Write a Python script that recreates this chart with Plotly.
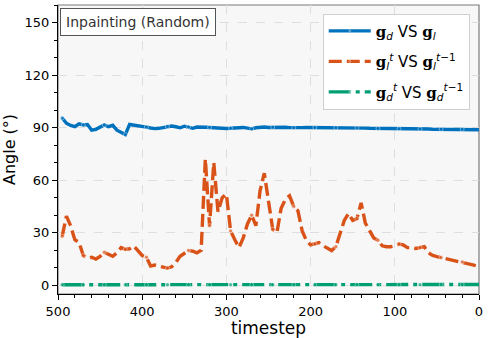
import plotly.graph_objects as go

# timesteps (x), sampled every 5 steps from 495 down to 0
timesteps = list(range(495, -1, -5))

# g_d vs g_l
angle_gd_gl = [
    95.5, 92.5, 91.2, 90.5, 92.2, 91.5, 91.8, 88.5, 89.0, 90.0,
    91.5, 90.5, 91.3, 88.5, 87.3, 86.0, 91.8, 91.5, 91.0, 90.8,
    90.3, 89.8, 89.4, 89.6, 89.9, 90.6, 90.9, 90.5, 89.9, 90.8,
    90.4, 89.6, 90.3, 90.4, 90.2, 90.1, 89.9, 90.0, 89.7, 89.5,
    89.6, 89.8, 90.0, 90.1, 89.7, 89.3, 89.9, 90.2, 90.3, 90.1,
    90.2, 90.0, 90.1, 90.2, 90.0, 89.9, 90.0, 90.0, 90.1, 90.1,
    90.0, 90.0, 90.0, 89.9, 90.0, 89.9, 89.9, 89.8, 89.9, 89.9,
    89.8, 89.8, 89.7, 89.6, 89.6, 89.5, 89.4, 89.4, 89.4, 89.4,
    89.3, 89.3, 89.3, 89.3, 89.3, 89.2, 89.2, 89.2, 89.1, 89.1,
    89.1, 89.1, 89.0, 89.0, 89.0, 89.0, 88.9, 88.9, 88.9, 88.8,
]

# g_l^t vs g_l^{t-1}
angle_gl_step = [
    28.0, 39.5, 34.0, 26.0, 24.5, 17.0, 15.5, 16.0, 15.0, 16.5,
    18.8, 17.5, 16.5, 18.5, 21.5, 20.5, 20.8, 22.4, 20.0, 17.0,
    16.0, 11.0, 11.5, 10.8, 10.2, 9.8, 10.5, 13.0, 16.5, 18.0,
    19.8, 19.5, 18.5, 20.0, 72.0, 34.0, 70.0, 42.0, 50.0, 52.0,
    31.0, 26.0, 21.5, 27.0, 35.0, 40.0, 34.0, 54.0, 64.0, 48.0,
    32.0, 30.0, 44.0, 49.0, 51.0, 45.0, 42.5, 31.0, 25.5, 23.0,
    23.5, 24.3, 22.5, 20.9, 19.8, 22.0, 29.0, 37.0, 41.0, 37.0,
    38.0, 47.0, 35.5, 31.0, 27.0, 25.7, 22.5, 22.0, 22.0, 22.5,
    23.5, 23.0, 21.5, 21.5, 21.0, 21.5, 22.0, 18.5, 17.0, 16.3,
    15.8, 15.4, 14.8, 14.4, 13.8, 13.3, 12.5, 11.9, 11.3, 10.8,
]

# g_d^t vs g_d^{t-1}
angle_gd_step = [
    0.3, 0.3, 0.2, 0.3, 0.3, 0.3, 0.2, 0.3, 0.3, 0.3,
    0.3, 0.2, 0.3, 0.3, 0.3, 0.3, 0.3, 0.2, 0.3, 0.3,
    0.3, 0.3, 0.3, 0.3, 0.2, 0.3, 0.3, 0.3, 0.3, 0.3,
    0.3, 0.3, 0.3, 0.4, 0.4, 0.3, 0.3, 0.3, 0.3, 0.3,
    0.3, 0.3, 0.3, 0.3, 0.3, 0.3, 0.3, 0.3, 0.3, 0.3,
    0.3, 0.3, 0.3, 0.3, 0.3, 0.3, 0.3, 0.3, 0.3, 0.3,
    0.3, 0.3, 0.3, 0.3, 0.3, 0.3, 0.3, 0.3, 0.3, 0.3,
    0.3, 0.3, 0.3, 0.3, 0.3, 0.3, 0.3, 0.3, 0.3, 0.3,
    0.3, 0.3, 0.3, 0.3, 0.3, 0.3, 0.3, 0.3, 0.3, 0.4,
    0.4, 0.4, 0.4, 0.4, 0.4, 0.4, 0.4, 0.4, 0.4, 0.4,
]

G = "<span style=\"font-family:'DejaVu Serif'\"><b>g</b></span>"
names = [
    f"{G}<sub><i>d</i></sub> VS {G}<sub><i>l</i></sub>",
    f"{G}<sub><i>l</i></sub><sup><i>t</i></sup> VS {G}<sub><i>l</i></sub><sup><i>t</i>−1</sup>",
    f"{G}<sub><i>d</i></sub><sup><i>t</i></sup> VS {G}<sub><i>d</i></sub><sup><i>t</i>−1</sup>",
]
colors = ['#0072BD', '#D95319', '#009E73']
dashes = ['solid', '13px,5px', '22px,5px,4px,5px']
series = [angle_gd_gl, angle_gl_step, angle_gd_step]

# small dot markers on every 5th sample
msize = [4 if i % 5 == 0 else 0 for i in range(len(timesteps))]

fig = go.Figure()
for k, (name, ys, c, d) in enumerate(zip(names, series, colors, dashes)):
    fig.add_trace(go.Scatter(
        x=timesteps, y=ys, name=name, mode='lines+markers', legendgroup=str(k),
        line=dict(color=c, width=3.4, dash=d),
        marker=dict(size=msize, color=c, line=dict(width=0.6, color='white')),
    ))

axis_common = dict(
    showline=True, linecolor='black', linewidth=1.2, mirror=False,
    ticks='outside', ticklen=5, tickwidth=1, tickcolor='black',
    showgrid=True, gridcolor='#dedede', griddash='dash', gridwidth=0.8,
    zeroline=False, tickfont=dict(size=13, color='black'),
)
fig.update_xaxes(
    range=[500, 0], tickvals=[500, 400, 300, 200, 100, 0],
    minor=dict(dtick=20, ticks='outside', ticklen=2.5, tickcolor='black', showgrid=False),
    title=dict(text='timestep', font=dict(size=17, color='black'), standoff=2),
    **axis_common,
)
fig.update_yaxes(
    range=[-5, 160], tickvals=[0, 30, 60, 90, 120, 150],
    minor=dict(dtick=10, ticks='outside', ticklen=2.5, tickcolor='black', showgrid=False),
    title=dict(text='Angle (°)', font=dict(size=16, color='black'), standoff=8),
    **axis_common,
)

fig.add_shape(type='rect', xref='paper', yref='paper', x0=0, y0=0, x1=1, y1=1,
              line=dict(color='#7a7a7a', width=1.2), layer='below')

fig.add_annotation(
    text='Inpainting (Random)', xref='paper', yref='paper', x=0.004, y=0.99,
    xanchor='left', yanchor='top', showarrow=False,
    font=dict(size=14, color='#333333'),
    bgcolor='white', bordercolor='#555555', borderwidth=1, borderpad=5,
)

fig.update_layout(
    width=488, height=338,
    margin=dict(l=54, r=9, t=5, b=43),
    paper_bgcolor='white', plot_bgcolor='#f7f7f7',
    font=dict(family='DejaVu Sans', color='black'),
    legend=dict(
        x=0.978, y=0.97, xanchor='right', yanchor='top',
        bgcolor='white', bordercolor='#d0d0d0', borderwidth=1,
        font=dict(size=15), itemwidth=42, tracegroupgap=8,
    ),
    showlegend=True,
)

fig.write_html("out.html", config={'displayModeBar': False},
               post_script="document.body.style.margin='0';")
